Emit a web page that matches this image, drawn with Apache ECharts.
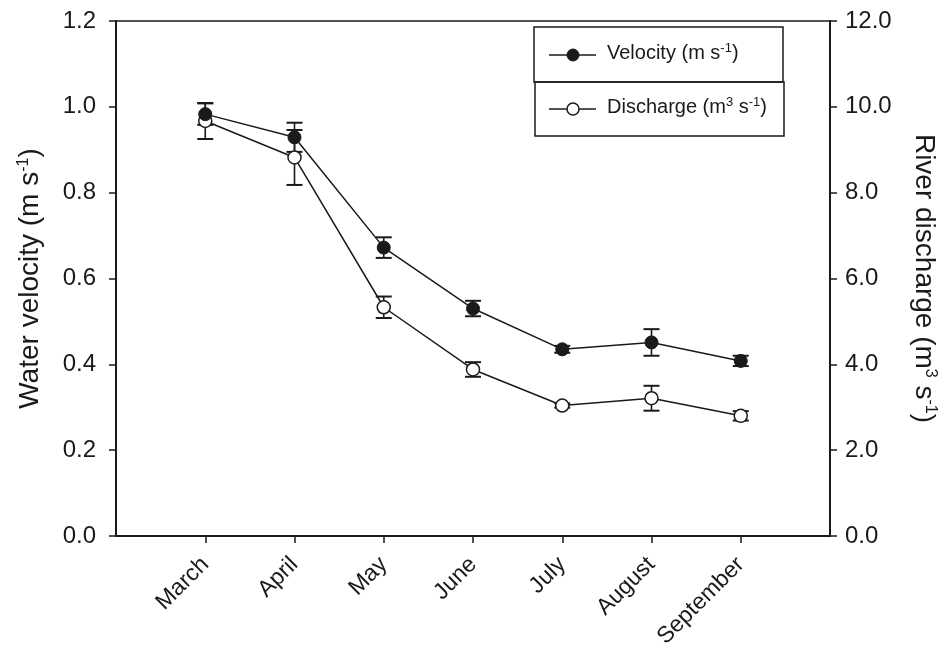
<!DOCTYPE html>
<html>
<head>
<meta charset="utf-8">
<script src="https://cdn.jsdelivr.net/npm/echarts@6/dist/echarts.min.js"></script>
<style>
  html, body { margin: 0; padding: 0; background: #fff; }
  #chart { width: 946px; height: 651px; }
</style>
</head>
<body>
<div id="chart"></div>
<script>
const months = ["March", "April", "May", "June", "July", "August", "September"];
const velocity = [0.983, 0.929, 0.672, 0.530, 0.435, 0.451, 0.408];
const velocityErr = [0.025, 0.034, 0.024, 0.018, 0.008, 0.031, 0.012];
const discharge = [9.67, 8.82, 5.33, 3.88, 3.04, 3.21, 2.80];
const dischargeErr = [0.42, 0.64, 0.25, 0.17, 0.05, 0.29, 0.11];
const leftTicks = [0, 1.2, 0.2];
const rightTicks = [0, 12, 2];

const ink = "#1a1a1a";
const font = "Liberation Sans";

// empty category at both ends so months sit one step in from the axes
const xCats = [""].concat(months, [""]);
const toPoints = arr => arr.map((v, i) => [i + 1, v]);
const toBars = (vals, errs) => vals.map((v, i) => [i + 1, v - errs[i], v + errs[i]]);

function errorBar(params, api) {
  const x = api.value(0);
  const lo = api.coord([x, api.value(1)]);
  const hi = api.coord([x, api.value(2)]);
  const w = 8;
  return {
    type: "group",
    children: [
      { type: "line", shape: { x1: lo[0], y1: lo[1], x2: hi[0], y2: hi[1] }, style: { stroke: ink, lineWidth: 1.6 } },
      { type: "line", shape: { x1: lo[0] - w, y1: lo[1], x2: lo[0] + w, y2: lo[1] }, style: { stroke: ink, lineWidth: 2 } },
      { type: "line", shape: { x1: hi[0] - w, y1: hi[1], x2: hi[0] + w, y2: hi[1] }, style: { stroke: ink, lineWidth: 2 } }
    ]
  };
}

const supRich = {
  sup: { fontSize: 16, fontFamily: font, color: ink, verticalAlign: "top", padding: [0, 0, 12, 0] }
};
const legendRich = {
  s: { fontSize: 13, fontFamily: font, fill: ink, verticalAlign: "top", padding: [0, 0, 9, 0] }
};

const chart = echarts.init(document.getElementById("chart"));
chart.setOption({
  animation: false,
  backgroundColor: "#fff",
  textStyle: { fontFamily: font, color: ink },
  grid: { left: 116, right: 115, top: 21, bottom: 115 },
  xAxis: {
    type: "category",
    data: xCats,
    boundaryGap: false,
    axisLine: { lineStyle: { color: ink, width: 2 } },
    axisTick: { length: 7, lineStyle: { color: ink, width: 1.5 }, interval: (i, v) => v !== "" },
    axisLabel: { interval: 0, rotate: 45, fontSize: 23, color: ink, margin: 25 },
    splitLine: { show: false }
  },
  yAxis: [
    {
      type: "value",
      min: leftTicks[0], max: leftTicks[1], interval: leftTicks[2],
      position: "left",
      name: "Water velocity (m s{sup|-1})",
      nameLocation: "middle",
      nameGap: 72,
      nameTextStyle: { fontSize: 28, color: ink, fontFamily: font, rich: supRich },
      axisLine: { show: true, lineStyle: { color: ink, width: 2 } },
      axisTick: { show: true, length: 7, lineStyle: { color: ink, width: 1.5 } },
      axisLabel: { fontSize: 24, color: ink, margin: 20, formatter: v => v.toFixed(1) },
      splitLine: { show: false }
    },
    {
      type: "value",
      min: rightTicks[0], max: rightTicks[1], interval: rightTicks[2],
      position: "right",
      name: "River discharge (m{sup|3} s{sup|-1})",
      nameLocation: "middle",
      nameRotate: -90,
      nameGap: 80,
      nameTextStyle: { fontSize: 28, color: ink, fontFamily: font, rich: supRich },
      axisLine: { show: true, lineStyle: { color: ink, width: 2 } },
      axisTick: { show: true, length: 7, lineStyle: { color: ink, width: 1.5 } },
      axisLabel: { fontSize: 24, color: ink, margin: 15, formatter: v => v.toFixed(1) },
      splitLine: { show: false }
    }
  ],
  graphic: [
    // top frame line
    { type: "line", shape: { x1: 116, y1: 21, x2: 831, y2: 21 }, style: { stroke: ink, lineWidth: 1.5 }, z: 10 },
    // legend boxes
    { type: "rect", shape: { x: 534, y: 27, width: 249, height: 55 }, style: { fill: "none", stroke: ink, lineWidth: 1.5 }, z: 10 },
    { type: "rect", shape: { x: 535, y: 82, width: 249, height: 54 }, style: { fill: "none", stroke: ink, lineWidth: 1.5 }, z: 10 },
    { type: "line", shape: { x1: 549, y1: 55, x2: 596, y2: 55 }, style: { stroke: ink, lineWidth: 1.5 }, z: 10 },
    { type: "circle", shape: { cx: 573, cy: 55, r: 6 }, style: { fill: ink, stroke: ink }, z: 11 },
    { type: "line", shape: { x1: 549, y1: 109, x2: 596, y2: 109 }, style: { stroke: ink, lineWidth: 1.5 }, z: 10 },
    { type: "circle", shape: { cx: 573, cy: 109, r: 6 }, style: { fill: "#fff", stroke: ink, lineWidth: 1.5 }, z: 11 },
    {
      type: "text", left: 607, top: 42, z: 10,
      style: { text: "Velocity (m s{s|-1})", fontSize: 20, fontFamily: font, fill: ink, rich: legendRich }
    },
    {
      type: "text", left: 607, top: 96, z: 10,
      style: { text: "Discharge (m{s|3} s{s|-1})", fontSize: 20, fontFamily: font, fill: ink, rich: legendRich }
    }
  ],
  series: [
    {
      type: "custom",
      name: "Velocity error",
      xAxisIndex: 0, yAxisIndex: 0,
      renderItem: errorBar,
      encode: { x: 0, y: [1, 2] },
      data: toBars(velocity, velocityErr),
      z: 1
    },
    {
      type: "custom",
      name: "Discharge error",
      xAxisIndex: 0, yAxisIndex: 1,
      renderItem: errorBar,
      encode: { x: 0, y: [1, 2] },
      data: toBars(discharge, dischargeErr),
      z: 1
    },
    {
      type: "line",
      name: "Discharge",
      yAxisIndex: 1,
      data: toPoints(discharge),
      symbol: "circle",
      symbolSize: 13,
      lineStyle: { color: ink, width: 1.5 },
      itemStyle: { color: "#fff", borderColor: ink, borderWidth: 1.5 },
      z: 3
    },
    {
      type: "line",
      name: "Velocity",
      yAxisIndex: 0,
      data: toPoints(velocity),
      symbol: "circle",
      symbolSize: 13,
      lineStyle: { color: ink, width: 1.5 },
      itemStyle: { color: ink, borderColor: ink, borderWidth: 1 },
      z: 4
    }
  ]
});
</script>
</body>
</html>
